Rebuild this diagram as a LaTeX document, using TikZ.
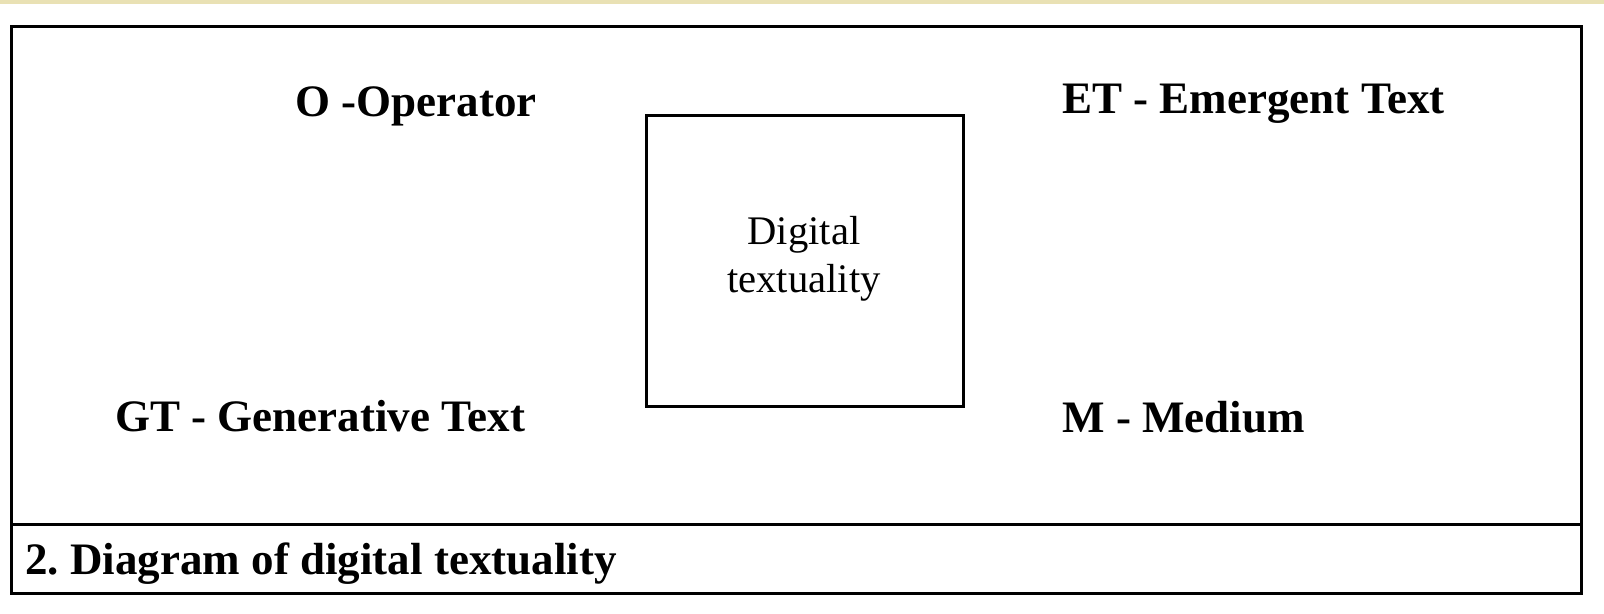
\documentclass[tikz,border=0pt]{standalone}
\usepackage{fontspec}
\setmainfont{Liberation Serif}
\usepackage{tikz}
\usetikzlibrary{positioning}
\definecolor{stripbeige}{HTML}{E9E1B4}
\frenchspacing

\tikzset{
  frame/.style={draw=black, line width=1.5pt},
  keylabel/.style={anchor=base west, inner sep=0pt, font=\fontsize{22.5pt}{27pt}\selectfont\bfseries},
  boxlabel/.style={align=center, inner sep=0pt, font=\fontsize{20.3pt}{24pt}\selectfont}
}

\begin{document}
\begin{tikzpicture}[x=0.5pt,y=-0.5pt]
  \useasboundingbox (0,0) rectangle (1604,614);
  % strip at the top
  \fill[stripbeige] (0,0) rectangle (1604,4);
  % outer frame and caption row
  \draw[frame] (11,27) rectangle (1581,593);
  \draw[frame] (11,524) -- (1581,524);
  % centre box
  \draw[frame] (646,116) rectangle (963,406);
  \node[boxlabel] (dt) at (804,259) {Digital\\textuality};
  % the four terms
  \node[keylabel] (op) at (295,117) {O -Operator};
  \node[keylabel] (et) at (1062,113.5) {ET - Emergent Text};
  \node[keylabel] (gt) at (115,431) {GT - Generative Text};
  \node[keylabel] (md) at (1062,432) {M - Medium};
  % caption
  \node[keylabel] (cap) at (25,574) {2. Diagram of digital textuality};
\end{tikzpicture}
\end{document}
